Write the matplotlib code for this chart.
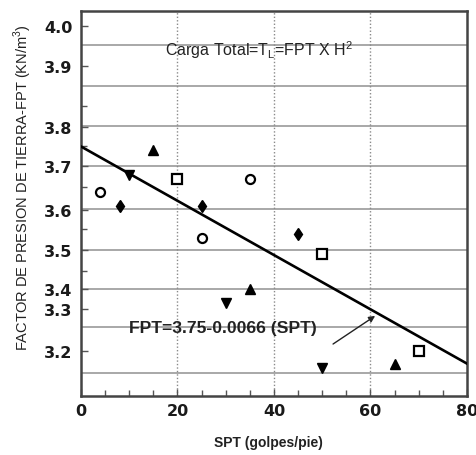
import numpy as np
import matplotlib
matplotlib.use("Agg")
import matplotlib.pyplot as plt

# ---- data ----
circ_x = [4, 25, 35]
circ_y = [3.64, 3.53, 3.67]
diam_x = [8, 25, 45]
diam_y = [3.61, 3.61, 3.54]
triu_x = [15, 35, 65]
triu_y = [3.74, 3.40, 3.17]
trid_x = [10, 30, 50]
trid_y = [3.68, 3.33, 3.16]
sq_x = [20, 50, 70]
sq_y = [3.67, 3.49, 3.20]
fit_x = [0, 80]
fit_y = [3.75, 3.17]

ytick_vals = [3.2, 3.3, 3.4, 3.5, 3.6, 3.7, 3.8, 3.9, 4.0]
ytick_labels = ["3.2", "3.3", "3.4", "3.5", "3.6", "3.7", "3.8", "3.9", "4.0"]
xtick_vals = [0, 20, 40, 60, 80]

# ---- non-uniform y axis of the original (value -> vertical position) ----
knot_v = np.array([3.093, 3.2, 3.3, 3.4, 3.5, 3.6, 3.7, 3.8, 3.9, 4.0, 4.0375])
knot_p = -np.array([397, 352, 310, 290, 251, 211, 167, 128, 67, 27, 12], float)

def _pl(x, xs, ys):
    x = np.asarray(x, float)
    y = np.interp(x, xs, ys)
    lo = x < xs[0]
    hi = x > xs[-1]
    s0 = (ys[1] - ys[0]) / (xs[1] - xs[0])
    s1 = (ys[-1] - ys[-2]) / (xs[-1] - xs[-2])
    y = np.where(lo, ys[0] + (x - xs[0]) * s0, y)
    y = np.where(hi, ys[-1] + (x - xs[-1]) * s1, y)
    return y

def fwd(v):
    return _pl(v, knot_v, knot_p)

def inv(p):
    return _pl(p, knot_p, knot_v)

def pix2val(py):
    return float(inv(-py))

fig = plt.figure(figsize=(4.77, 4.56), dpi=100)
ax = fig.add_axes([81 / 477, 1 - 397 / 456, 386 / 477, 385 / 456])
ax.set_yscale("function", functions=(fwd, inv))
ax.set_xlim(0, 80)
ax.set_ylim(knot_v[0], knot_v[-1])

# grid lines
for py in [46, 87, 127, 167, 210, 251, 290, 328, 374]:
    ax.axhline(pix2val(py), color="#9a9a9a", lw=1.2, zorder=1)
for xv in [20, 40, 60]:
    ax.axvline(xv, color="#8a8a8a", lw=1.0, ls=(0, (1, 1.5)), zorder=1)

# markers
ax.plot(circ_x, circ_y, ls="none", marker="o", ms=6.5, mfc="white", mec="black", mew=1.6, zorder=3)
ax.plot(diam_x, diam_y, ls="none", marker="d", ms=6, mfc="black", mec="black", mew=1.0, zorder=3)
ax.plot(triu_x, triu_y, ls="none", marker="^", ms=6.5, mfc="black", mec="black", mew=1.0, zorder=3)
ax.plot(trid_x, trid_y, ls="none", marker="v", ms=7, mfc="black", mec="black", mew=1.0, zorder=3)
ax.plot(sq_x, sq_y, ls="none", marker="s", ms=6.5, mfc="white", mec="black", mew=1.6, zorder=3)

# regression line
ax.plot(fit_x, fit_y, color="black", lw=1.9, zorder=4)

# ticks
ax.set_xticks(xtick_vals)
ax.set_xticklabels([str(v) for v in xtick_vals], fontsize=11.5, fontweight="bold",
                   family="DejaVu Sans", color="#1a1a1a")
ax.set_xticks([v for v in range(5, 80, 5) if v % 20 != 0], minor=True)
ax.set_yticks(ytick_vals)
ax.set_yticklabels(ytick_labels, fontsize=11.5, fontweight="bold",
                   family="DejaVu Sans", color="#1a1a1a")
ax.set_yticks([pix2val(p) for p in [107, 147, 188, 230, 272]], minor=True)
ax.tick_params(axis="both", which="major", direction="in", length=5, width=1, color="#555555")
ax.tick_params(axis="both", which="minor", direction="in", length=4, width=1, color="#555555")
ax.tick_params(axis="x", which="major", pad=5)
ax.tick_params(axis="y", which="major", pad=6)

for s in ax.spines.values():
    s.set_color("#444444")
    s.set_linewidth(1.8)

ax.set_xlabel("SPT (golpes/pie)", fontsize=10, fontweight="bold",
              family="Liberation Sans", color="#222222", va="center")
ax.xaxis.set_label_coords(0.486, -0.12)
ax.set_ylabel("FACTOR DE PRESION DE TIERRA-FPT (KN/m$^\\mathregular{3}$)", fontsize=10.5,
              family="Liberation Sans", color="#222222")
ax.yaxis.set_label_coords(-0.122, 0.545)

ax.text(0.462, 0.901, "Carga Total=T$_\\mathregular{L}$=FPT X H$^\\mathregular{2}$",
        transform=ax.transAxes, ha="center", va="center", fontsize=11.5,
        family="Liberation Sans", color="#222222", zorder=5)
ax.text(0.124, 0.177, "FPT=3.75-0.0066 (SPT)", transform=ax.transAxes,
        ha="left", va="center", fontsize=12.6, fontweight="bold",
        family="Liberation Sans", color="#222222", zorder=5)
ax.annotate("", xy=(0.762, 0.208), xytext=(0.653, 0.135),
            xycoords="axes fraction", textcoords="axes fraction",
            arrowprops=dict(arrowstyle="-|>", color="#222222", lw=1.0,
                            mutation_scale=9, shrinkA=0, shrinkB=0), zorder=5)

fig.savefig("out.png", dpi=100)
